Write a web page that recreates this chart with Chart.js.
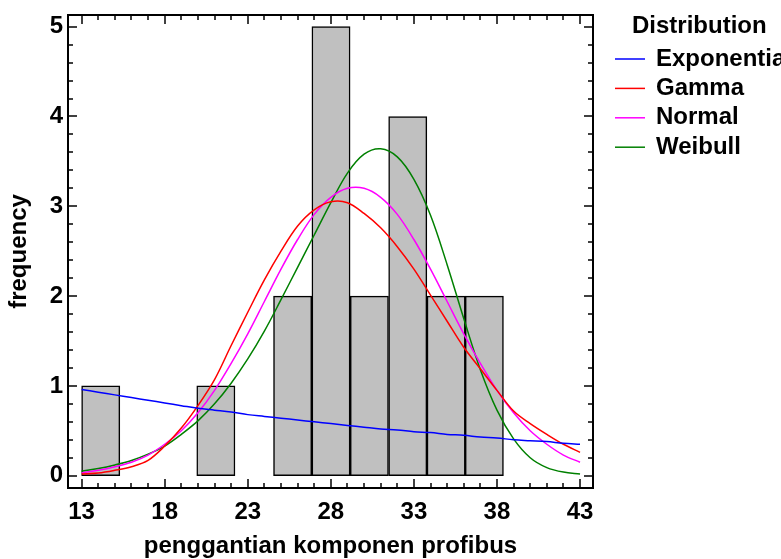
<!DOCTYPE html>
<html>
<head>
<meta charset="utf-8">
<script src="https://cdn.jsdelivr.net/npm/chart.js@4.4.0/dist/chart.umd.min.js"></script>
<style>
  html, body { margin: 0; padding: 0; background: #fff; }
  #wrap { width: 781px; height: 559px; }
</style>
</head>
<body>
<div id="wrap"><canvas id="chart" width="781" height="559"></canvas></div>
<script>
// ── Data ────────────────────────────────────────────
// histogram classes (centre of each class, width 2.31)
const binCenters = [14.15, 16.46, 18.77, 21.08, 23.39, 25.70, 28.01, 30.32, 32.63, 34.94, 37.24];
const binCounts  = [1, 0, 0, 1, 0, 2, 5, 2, 4, 2, 2];

// fitted curves at every unit of x
const curveX = [13, 14, 15, 16, 17, 18, 19, 20, 21, 22, 23, 24, 25, 26, 27, 28,
                29, 30, 31, 32, 33, 34, 35, 36, 37, 38, 39, 40, 41, 42, 43];
const expoY = [0.96, 0.93, 0.90, 0.87, 0.84, 0.81, 0.78, 0.75, 0.73, 0.71, 0.68, 0.66, 0.64, 0.62, 0.60, 0.58,
               0.56, 0.54, 0.52, 0.51, 0.49, 0.48, 0.46, 0.45, 0.43, 0.42, 0.40, 0.39, 0.38, 0.36, 0.35];
const gammaY = [0.02, 0.03, 0.06, 0.10, 0.17, 0.33, 0.53, 0.78, 1.07, 1.45, 1.82, 2.18, 2.50, 2.78, 2.96, 3.05,
                3.04, 2.92, 2.76, 2.55, 2.30, 2.01, 1.72, 1.43, 1.19, 0.95, 0.72, 0.58, 0.46, 0.35, 0.26];
const normalY = [0.03, 0.06, 0.10, 0.15, 0.23, 0.35, 0.50, 0.70, 0.95, 1.25, 1.58, 1.94, 2.30, 2.63, 2.91, 3.10,
                 3.20, 3.20, 3.10, 2.91, 2.63, 2.30, 1.94, 1.58, 1.25, 0.95, 0.70, 0.50, 0.35, 0.23, 0.15];
const weibullY = [0.05, 0.08, 0.12, 0.17, 0.24, 0.33, 0.46, 0.61, 0.80, 1.03, 1.30, 1.61, 1.96, 2.32, 2.68, 3.04,
                  3.37, 3.58, 3.64, 3.55, 3.30, 2.90, 2.35, 1.75, 1.18, 0.73, 0.41, 0.20, 0.09, 0.04, 0.02];

const xTicks = [13, 18, 23, 28, 33, 38, 43];
const yTicks = [0, 1, 2, 3, 4, 5];
const legendTitle = 'Distribution';

const FONT = '"Liberation Sans", Arial, Helvetica, sans-serif';

// ── Frame with inward ticks on all four sides ───────
const frameTicks = {
  id: 'frameTicks',
  afterDatasetsDraw(chart) {
    const { ctx, chartArea: a, scales: { x, y } } = chart;
    const seg = (x1, y1, x2, y2) => { ctx.beginPath(); ctx.moveTo(x1, y1); ctx.lineTo(x2, y2); ctx.stroke(); };
    ctx.save();
    ctx.strokeStyle = '#000';
    ctx.lineWidth = 1.5;
    for (let v = Math.ceil(x.min); v <= x.max; v++) {
      const px = Math.round(x.getPixelForValue(v));
      const len = xTicks.includes(v) ? 9 : 5;
      seg(px, a.bottom, px, a.bottom - len);
      seg(px, a.top, px, a.top + len);
    }
    for (let k = Math.ceil(y.min * 5); k <= Math.floor(y.max * 5); k++) {
      const py = Math.round(y.getPixelForValue(k / 5));
      const len = k % 5 === 0 ? 9 : 5;
      seg(a.left, py, a.left + len, py);
      seg(a.right, py, a.right - len, py);
    }
    ctx.lineWidth = 2;
    ctx.strokeRect(a.left, a.top, a.right - a.left, a.bottom - a.top);
    ctx.restore();
  }
};

// ── Legend at the right ─────────────────────────────
const sideLegend = {
  id: 'sideLegend',
  afterDraw(chart) {
    const { ctx, chartArea: a } = chart;
    ctx.save();
    ctx.font = 'bold 24px ' + FONT;
    ctx.fillStyle = '#000';
    ctx.textBaseline = 'middle';
    ctx.textAlign = 'left';
    ctx.fillText(legendTitle, a.right + 39, 26);
    chart.data.datasets.filter(d => d.type === 'line').forEach((d, i) => {
      const yy = 59 + i * 29.4;
      ctx.strokeStyle = d.borderColor;
      ctx.lineWidth = 1.5;
      ctx.beginPath();
      ctx.moveTo(a.right + 22, yy);
      ctx.lineTo(a.right + 52, yy);
      ctx.stroke();
      ctx.fillText(d.label, a.right + 63, yy);
    });
    ctx.restore();
  }
};

function curve(label, ys, color) {
  return {
    type: 'line',
    label,
    data: curveX.map((x, i) => ({ x, y: ys[i] })),
    borderColor: color,
    borderWidth: 1.5,
    pointRadius: 0,
    fill: false,
    tension: 0.35,
    order: 0,
  };
}

new Chart(document.getElementById('chart'), {
  type: 'bar',
  data: {
    datasets: [
      curve('Exponential', expoY, '#0000ff'),
      curve('Gamma', gammaY, '#ff0000'),
      curve('Normal', normalY, '#ff00ff'),
      curve('Weibull', weibullY, '#008000'),
      {
        type: 'bar',
        label: 'frequency',
        data: binCenters.map((x, i) => ({ x, y: binCounts[i] || null })),
        backgroundColor: '#c0c0c0',
        borderColor: '#000',
        borderWidth: 1.5,
        borderSkipped: false,
        barPercentage: 1,
        categoryPercentage: 1,
        order: 5,
      },
    ],
  },
  options: {
    responsive: false,
    animation: false,
    layout: { padding: { left: 0, top: 15, right: 188, bottom: 0 } },
    plugins: {
      legend: { display: false },
      tooltip: { enabled: false },
    },
    scales: {
      x: {
        type: 'linear',
        offset: false,
        min: 12.18,
        max: 43.78,
        grid: { display: false, drawTicks: false },
        border: { display: false },
        afterBuildTicks: s => { s.ticks = xTicks.map(v => ({ value: v })); },
        afterFit: s => { s.height = 71; },
        ticks: { color: '#000', padding: 10, maxRotation: 0, autoSkip: false, font: { family: FONT, size: 24, weight: 'bold' } },
        title: {
          display: true,
          text: 'penggantian komponen profibus',
          color: '#000',
          padding: { top: 0, bottom: -2 },
          font: { family: FONT, size: 24, weight: 'bold' },
        },
      },
      y: {
        type: 'linear',
        min: -0.137,
        max: 5.13,
        grid: { display: false, drawTicks: false },
        border: { display: false },
        afterBuildTicks: s => { s.ticks = yTicks.map(v => ({ value: v })); },
        afterFit: s => { s.width = 68; },
        ticks: { color: '#000', padding: 5, font: { family: FONT, size: 24, weight: 'bold', lineHeight: 0.8 } },
        title: {
          display: true,
          text: 'frequency',
          color: '#000',
          padding: { top: 5, bottom: 0 },
          font: { family: FONT, size: 24, weight: 'bold' },
        },
      },
    },
  },
  plugins: [frameTicks, sideLegend],
});
</script>
</body>
</html>
